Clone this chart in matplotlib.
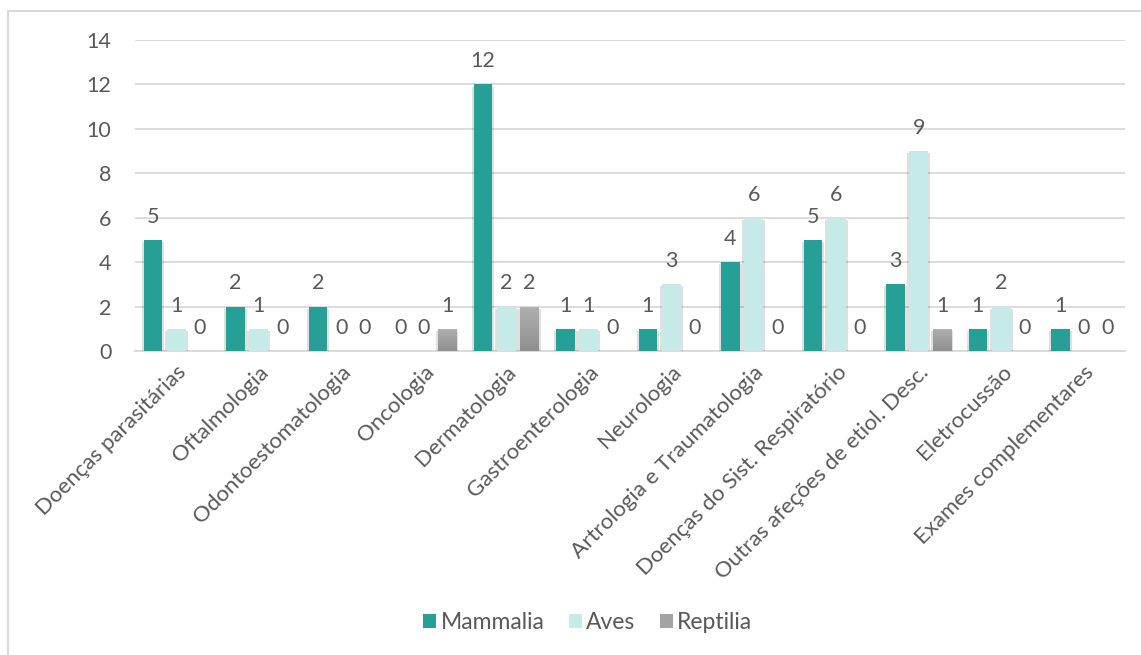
import numpy as np
import matplotlib
matplotlib.use('Agg')
import matplotlib.pyplot as plt
import matplotlib.patheffects as pe
from matplotlib.patches import Rectangle

categories = ['Doenças parasitárias', 'Oftalmologia', 'Odontoestomatologia', 'Oncologia',
              'Dermatologia', 'Gastroenterologia', 'Neurologia', 'Artrologia e Traumatologia',
              'Doenças do Sist. Respiratório', 'Outras afeções de etiol. Desc.', 'Eletrocussão',
              'Exames complementares']
mammalia = [5, 2, 2, 0, 12, 1, 1, 4, 5, 3, 1, 1]
aves = [1, 1, 0, 0, 2, 1, 3, 6, 6, 9, 2, 0]
reptilia = [0, 0, 0, 1, 2, 0, 0, 0, 0, 1, 0, 0]
series_names = ['Mammalia', 'Aves', 'Reptilia']
colors = ['#26A096', '#C5EAE8', '#A3A3A3']
yticks = [0, 2, 4, 6, 8, 10, 12, 14]

text_col = '#595959'
plt.rcParams['font.family'] = ['Lato', 'DejaVu Sans']
plt.rcParams['font.size'] = 16

fig = plt.figure(figsize=(11.41, 6.55), dpi=100)
ax = fig.add_axes([135/1141, 1-351/655, (1125-135)/1141, (351-40)/655])

# light frame round the chart (Excel style)
fig.patches.append(Rectangle((8/1141, -0.05), 1.1, 1.05 - 11/655, transform=fig.transFigure,
                             fill=False, edgecolor='#d9d9d9', linewidth=1.5))

x = np.arange(len(categories))
slot = 0.283
width = 0.225
# soft shadow at the sides and bottom of the bars
shadow = [pe.SimplePatchShadow(offset=(1.5, -1.5), shadow_rgbFace='black', alpha=0.12),
          pe.SimplePatchShadow(offset=(-1.5, -1.5), shadow_rgbFace='black', alpha=0.12),
          pe.Normal()]
for i, (name, vals) in enumerate(zip(series_names, [mammalia, aves, reptilia])):
    bars = ax.bar(x + (i - 1) * slot, vals, width, color=colors[i], label=name, zorder=3,
                  linewidth=0)
    for b, v in zip(bars, vals):
        if v > 0:
            b.set_path_effects(shadow)
            if name == 'Reptilia':
                # grey gradient like the original
                grad = np.linspace(0, 1, 50).reshape(-1, 1)
                im = ax.imshow(grad, cmap=matplotlib.colors.LinearSegmentedColormap.from_list(
                    'g', ['#8f8f8f', '#b0b0b0']), origin='lower', aspect='auto',
                    extent=(b.get_x(), b.get_x() + b.get_width(), 0, v), zorder=4)
                im.set_clip_path(b)
        ax.annotate(str(v), (b.get_x() + b.get_width() / 2, v), xytext=(0, 9.5),
                    textcoords='offset points', ha='center', va='bottom',
                    color=text_col, fontsize=15.5)

ax.set_xlim(-0.5, len(categories) - 0.5)
ax.set_ylim(0, 14)
ax.set_yticks(yticks)
ax.yaxis.grid(True, color='#d9d9d9', linewidth=1.3, zorder=0)
ax.set_axisbelow(True)
for s in ['top', 'right', 'left']:
    ax.spines[s].set_visible(False)
ax.spines['bottom'].set_color('#d9d9d9')
ax.spines['bottom'].set_linewidth(1.3)
ax.tick_params(axis='y', length=0, pad=17, colors=text_col, labelsize=15.5)
ax.tick_params(axis='x', length=0, pad=8, colors=text_col, labelsize=16)
ax.set_xticks(x)
ax.set_xticklabels(categories, rotation=45, ha='right', rotation_mode='anchor')

leg = ax.legend(loc='center', bbox_to_anchor=(0.515, 0.05), bbox_transform=fig.transFigure,
                ncol=3, frameon=False, handlelength=0.57, handleheight=0.57, handletextpad=0.2,
                columnspacing=1.05, fontsize=16.5, labelcolor=text_col)
for h in leg.legend_handles:
    h.set_path_effects([])

plt.savefig('out.png', dpi=100)
